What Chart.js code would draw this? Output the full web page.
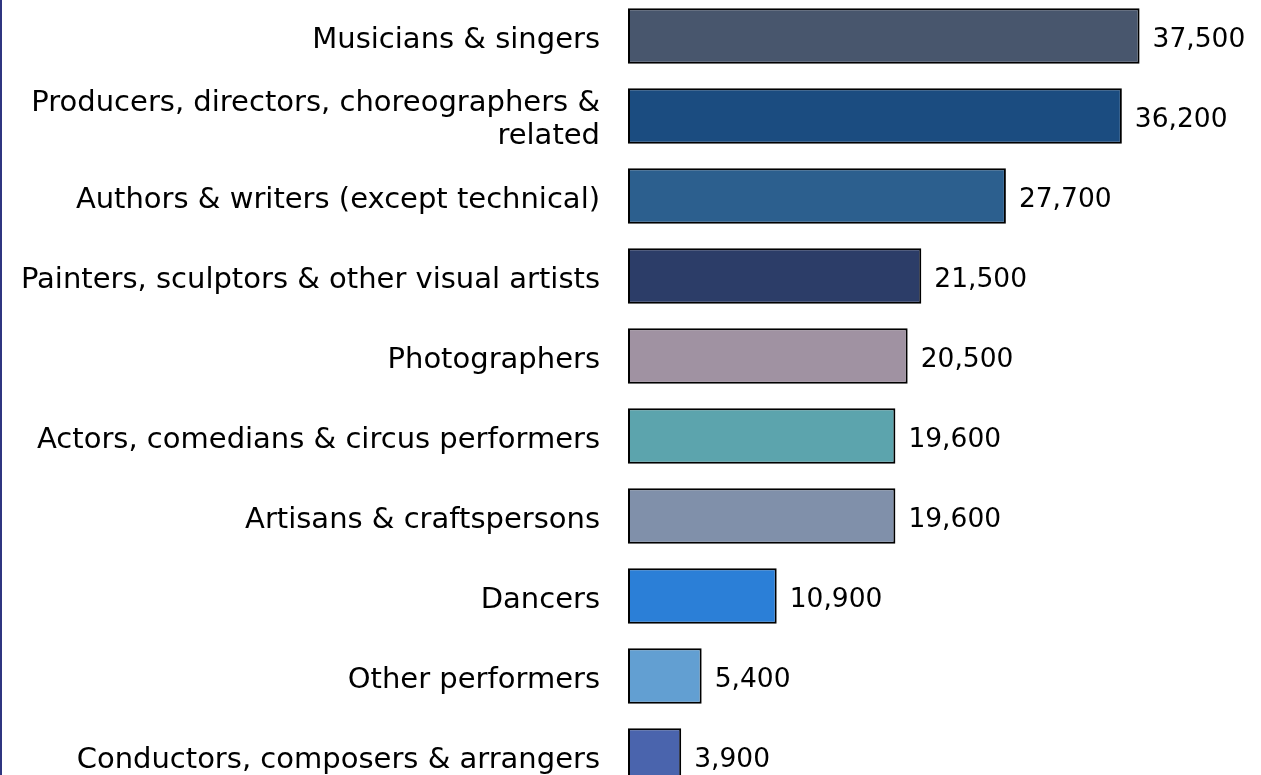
<!DOCTYPE html>
<html>
<head>
<meta charset="utf-8">
<script src="https://cdn.jsdelivr.net/npm/chart.js@4"></script>
<style>
html, body { margin: 0; padding: 0; background: #fff; overflow: hidden; }
body { width: 1261px; height: 775px; position: relative; }
#edge { position: absolute; left: 0; top: 0; width: 2px; height: 775px; background: #2f3580; z-index: 2; }
#occupations-chart { position: absolute; left: 0; top: -4px; }
</style>
</head>
<body>
<div id="edge"></div>
<canvas id="occupations-chart" width="1261" height="800"></canvas>
<script>
var categories = [
	'Musicians & singers',
	['Producers, directors, choreographers &', 'related'],
	'Authors & writers (except technical)',
	'Painters, sculptors & other visual artists',
	'Photographers',
	'Actors, comedians & circus performers',
	'Artisans & craftspersons',
	'Dancers',
	'Other performers',
	'Conductors, composers & arrangers'
];
var workers = [37500, 36200, 27700, 21500, 20500, 19600, 19600, 10900, 5400, 3900];
var barColors = ['#48566d', '#1b4c80', '#2c5f8e', '#2c3d68', '#a092a2', '#5ca4ad', '#8090aa', '#2b7fd7', '#629fd2', '#4a64ad'];

var valueLabels = {
	id: 'valueLabels',
	afterDatasetsDraw: function(chart) {
		var ctx = chart.ctx;
		var meta = chart.getDatasetMeta(0);
		ctx.save();
		ctx.font = '26.5px "DejaVu Sans"';
		ctx.fillStyle = '#000';
		ctx.textBaseline = 'middle';
		ctx.textAlign = 'left';
		for (var i = 0; i < meta.data.length; i++) {
			var bar = meta.data[i];
			ctx.fillText(workers[i].toLocaleString('en-US'), bar.x + 13, bar.y + 4);
		}
		ctx.restore();
	}
};

var ctx = document.getElementById('occupations-chart').getContext('2d');
var occupationsChart = new Chart(ctx, {
	type: 'bar',
	data: {
		labels: categories,
		datasets: [{
			data: workers,
			backgroundColor: barColors,
			borderColor: '#000',
			borderWidth: 2,
			borderSkipped: false,
			categoryPercentage: 0.9,
			barPercentage: 0.77
		}]
	},
	options: {
		indexAxis: 'y',
		responsive: false,
		animation: false,
		layout: { padding: 0 },
		plugins: {
			legend: { display: false },
			tooltip: { enabled: false }
		},
		scales: {
			x: {
				display: false,
				min: 0,
				max: 46400
			},
			y: {
				grid: { display: false, drawTicks: false },
				border: { display: false },
				afterFit: function(scale) {
					scale.width = 628;
					scale.paddingTop = 0;
					scale.paddingBottom = 0;
					if (!scale._shifted) {
						// labels sit a few px lower in the original
						var orig = scale.drawLabels;
						scale.drawLabels = function(area) {
							this.ctx.save();
							this.ctx.translate(0, 4);
							orig.call(this, area);
							this.ctx.restore();
						};
						scale._shifted = true;
					}
				},
				ticks: {
					padding: 28,
					color: '#000',
					font: { family: 'DejaVu Sans', size: 29, lineHeight: 1.15 }
				}
			}
		}
	},
	plugins: [valueLabels]
});
</script>
</body>
</html>
